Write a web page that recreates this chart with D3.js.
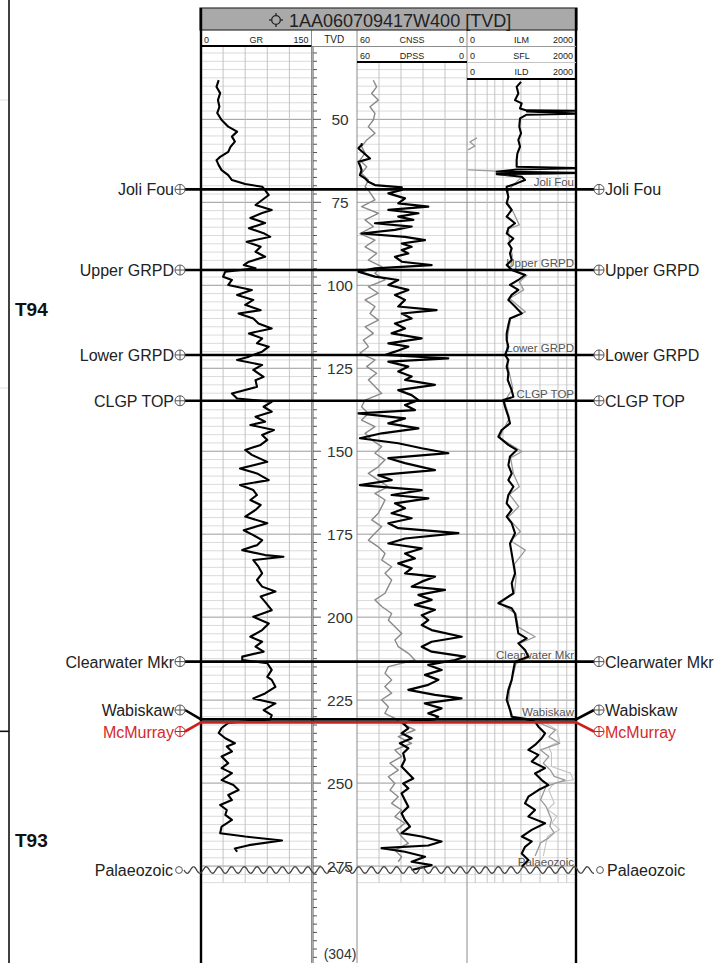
<!DOCTYPE html>
<html><head><meta charset="utf-8">
<script src="https://cdn.jsdelivr.net/npm/d3@7"></script>
<style>
body{margin:0;background:#fff}
svg{display:block}
text{font-family:"Liberation Sans",Arial,Helvetica,sans-serif}
</style>
</head><body>
<svg id="c" width="725" height="963"></svg>
<script>
// ---------------- DATA ----------------
const wellName = "1AA060709417W400 [TVD]";
const depthLabels = [50,75,100,125,150,175,200,225,250,275];
const bottomDepth = 304;
const grRange = [0,150];
const neuRange = [60,0];
const resRange = [0,2000];
const grGridVals = [30,60,90,120];
const neuGridVals = [48,36,24,12];
const resGridVals = [150,370,510,660,990,1340,1670,1830];

const topNames  = ["Joli Fou","Upper GRPD","Lower GRPD","CLGP TOP","Clearwater Mkr","Wabiskaw","McMurray"];
const topDepths = [71.1, 95.4, 121.0, 134.8, 213.4, 230.8, 231.7];
const unconfName = "Palaeozoic";
const unconfDepth = 276.2;
const zoneNames = ["T94","T93"];
const zoneLabelDepths = [107.2, 267.1];
const zoneBoundary = 234.4;

// [depth, value]
const gr = [[38.2,24],[40.2,21],[42.1,26],[44.2,23],[46.2,25],[48.1,22],[50.2,28],[52.2,37],[53.7,49],[55.2,42],[56.7,46],[58.3,40],[59.8,37],[61.3,26],[62.3,21],[63.8,24],[65.3,28],[66.8,37],[68.3,42],[69.5,60],[70.3,83],[71.3,87],[72.8,92],[74.3,83],[75.8,74],[77.3,96],[78.2,83],[79.7,67],[81.2,87],[82.8,65],[84.3,85],[85.4,94],[86.9,62],[88.4,81],[89.9,74],[91.4,87],[92.9,65],[93.9,58],[94.9,74],[95.9,33],[97.4,30],[98.4,42],[99.9,37],[101.4,69],[102.9,49],[104.4,71],[105.9,60],[107.5,81],[108.5,51],[110,71],[111.5,78],[113,96],[114.5,65],[116,83],[117.5,76],[118.5,92],[120,83],[121.5,65],[122.5,49],[124,83],[125.5,71],[127.6,85],[128.6,74],[130.6,76],[132.6,42],[134.1,49],[135.1,96],[136.6,85],[138.1,96],[139.6,74],[141.1,87],[142.1,67],[143.6,99],[145.1,83],[146.6,90],[148.1,81],[149.6,60],[151.1,69],[153.2,90],[155.2,53],[156.7,76],[158.7,92],[160.2,53],[161.7,71],[163.2,76],[164.7,67],[166.2,81],[167.7,74],[169.7,60],[171.7,90],[173.8,58],[175.3,71],[176.8,83],[178.3,76],[179.8,56],[181.3,87],[181.8,112],[182.8,71],[184.8,78],[186.8,83],[188.8,76],[190.8,83],[192.3,101],[193.8,81],[195.4,87],[197.9,96],[199.9,71],[201.9,92],[203.9,83],[205.9,67],[207.4,83],[208.9,74],[210.4,85],[211.9,56],[212.9,56],[213.9,90],[215.9,96],[218,90],[218.9,96],[221,101],[223,87],[224.5,71],[226,101],[228,85],[229.5,96],[230.8,94],[231.5,53],[231.9,37],[233.4,28],[234.9,24],[236.5,33],[238,46],[239,35],[240.5,42],[242,28],[244,37],[245.5,28],[247,42],[249.1,28],[250.6,44],[252.1,51],[253.6,37],[255.1,42],[256.6,26],[258.1,35],[259.6,33],[261.1,42],[263.1,28],[265.1,26],[266.1,60],[267.3,110],[268.7,65],[269.7,46],[270.7,49]];

const cnss = [[38.2,51.1],[40.2,49.3],[42.2,52.0],[44.2,48.4],[46.2,52.9],[48.2,50.2],[50.2,51.1],[52.2,53.8],[54.2,50.2],[56.2,54.7],[58.2,57.5],[60.2,55.6],[62.3,58.4],[64.3,54.7],[66.3,57.5],[68.3,53.8],[70.3,55.6],[71.3,53.8],[74.3,50.2],[76.3,57.5],[78.3,48.4],[80.3,55.6],[82.3,51.1],[84.4,58.4],[86.4,50.2],[88.4,55.6],[90.4,49.3],[92.4,53.8],[94.4,46.5],[96.4,50.2],[98.4,44.7],[100.4,53.8],[102.4,48.4],[104.4,55.6],[106.4,50.2],[108.5,52.9],[110.5,48.4],[112.5,55.6],[114.5,51.1],[116.5,56.5],[118.5,53.8],[120.5,58.4],[122.5,50.2],[124.5,54.7],[126.5,49.3],[128.5,53.8],[130.5,50.2],[132.6,46.5],[134.6,55.6],[136.6,57.5],[138.6,53.8],[140.6,57.5],[142.6,50.2],[144.6,55.6],[146.6,52.0],[148.6,46.5],[150.6,50.2],[152.6,44.7],[154.7,48.4],[156.7,53.8],[158.7,48.4],[160.7,42.9],[162.7,50.2],[164.7,44.7],[166.7,46.5],[168.7,48.4],[170.7,52.0],[172.7,46.5],[174.7,50.2],[176.8,53.8],[178.8,48.4],[180.8,44.7],[182.8,46.5],[184.8,41.1],[186.8,44.7],[188.8,41.1],[190.8,42.9],[192.8,44.7],[194.8,50.2],[196.8,46.5],[198.9,41.1],[200.9,42.9],[202.9,39.3],[204.9,35.6],[206.9,39.3],[208.9,37.5],[210.9,32.0],[212.9,28.4],[214.9,42.9],[216.9,44.7],[218.9,41.1],[220.9,44.8],[222.9,41.1],[224.9,46.6],[227.0,42.9],[229.0,44.8],[230.5,39.3],[232.0,35.7],[234.0,28.4],[236.0,37.5],[238.0,30.2],[240.0,39.3],[242.0,35.7],[244.0,42.0],[246.1,37.5],[248.1,42.9],[250.1,39.3],[252.1,42.0],[254.1,37.5],[256.1,41.1],[258.1,35.7],[260.1,39.3],[262.1,33.9],[264.1,38.4],[266.1,35.7],[268.2,32.0],[270.2,39.3],[272.2,35.7],[273.7,37.5]];

const dpss = [[57.2,57.3],[57.7,57.5],[58.7,59.3],[61.8,52.9],[62.8,59.3],[63.8,58.4],[65.3,57.5],[66.8,58.4],[67.8,55.6],[68.8,53.8],[69.8,50.2],[70.5,35.6],[71.3,35.6],[72.3,42.9],[73.8,33.8],[75.3,37.5],[76.3,21.1],[77.3,42.9],[78.3,26.5],[79.3,37.5],[80.3,29.3],[81.3,50.2],[82.3,30.2],[83.3,39.3],[84.4,57.5],[85.4,33.8],[86.4,22.9],[87.4,35.6],[88.4,30.2],[89.4,35.6],[90.4,32.0],[91.4,39.3],[92.9,35.6],[93.9,19.3],[94.9,50.2],[95.9,59.3],[97.4,50.2],[98.4,37.5],[99.9,42.9],[101.4,32.0],[102.9,39.3],[104.4,33.8],[106.4,37.5],[107.5,16.6],[108.5,35.6],[110.0,30.2],[111.5,39.3],[113.0,33.8],[114.5,41.1],[116.0,24.7],[117.5,42.9],[118.5,32.0],[120.0,39.3],[121.0,44.7],[122.0,10.2],[123.0,42.9],[124.5,32.0],[126.0,37.5],[127.5,30.2],[128.5,33.8],[130.0,17.5],[131.6,37.5],[133.1,30.2],[134.6,26.5],[136.1,33.8],[137.6,28.4],[138.6,59.3],[140.1,33.8],[141.6,42.9],[143.1,26.5],[144.6,46.5],[146.1,58.4],[147.6,37.5],[149.1,24.7],[150.6,10.2],[152.1,42.9],[153.6,33.8],[155.7,17.5],[157.2,48.4],[158.7,41.1],[160.2,58.4],[161.7,24.7],[163.2,41.1],[164.2,21.1],[165.7,39.3],[167.2,33.8],[168.7,41.1],[170.2,30.2],[171.7,42.9],[173.2,37.5],[174.7,4.7],[176.3,33.8],[177.8,42.9],[179.3,24.7],[180.8,33.8],[182.3,28.4],[183.8,37.5],[185.3,30.2],[186.8,33.8],[187.8,17.5],[189.3,24.7],[190.8,30.2],[191.8,12.0],[193.3,26.5],[194.8,19.3],[196.3,28.4],[197.8,17.5],[199.4,24.7],[200.9,21.1],[202.4,24.7],[203.9,19.3],[205.9,2.9],[207.4,19.3],[208.9,24.7],[210.4,19.3],[211.9,1.1],[212.9,6.5],[214.4,21.1],[215.9,13.8],[217.4,22.9],[218.9,15.6],[220.4,21.1],[221.9,32.0],[223.4,17.5],[224.5,3.0],[226.0,23.0],[227.5,13.9],[229.0,21.1],[230.0,15.7],[230.8,17.5],[231.5,32.0],[232.0,34.8],[233.5,32.0],[235.0,35.7],[236.5,30.2],[238.0,36.6],[239.5,32.0],[241.0,34.8],[243.0,33.9],[245.0,35.7],[247.1,32.0],[248.6,29.3],[250.1,34.8],[251.6,32.0],[253.1,35.7],[255.1,33.9],[257.1,32.0],[259.1,35.7],[261.1,33.9],[263.1,31.1],[265.1,35.7],[266.1,24.8],[267.6,13.9],[268.8,21.1],[269.6,46.6],[270.7,33.9],[272.2,22.9],[273.7,30.2],[274.7,19.3],[276.2,30.2]];

const ild = [[38.7,991],[40.2,911],[42.2,942],[44.2,881],[45.2,1003],[46.7,973],[47.3,1095],[47.4,2100],[47.6,1100],[48.3,2100],[48.6,1095],[49.7,973],[52.2,960],[54.2,991],[56.2,942],[58.2,973],[60.3,924],[62.3,911],[64.3,911],[64.7,2100],[65.1,911],[65.8,544],[66.1,2100],[66.5,544],[67.3,1003],[68.3,1064],[69.3,911],[70.3,728],[71.3,728],[73.3,759],[75.3,728],[77.3,820],[79.3,728],[81.3,881],[82.8,759],[84.4,728],[85.9,851],[87.4,759],[88.9,820],[90.4,789],[92.4,820],[93.9,728],[95.4,820],[96.9,1065],[98.4,942],[99.9,789],[101.4,942],[102.9,820],[104.4,759],[106.4,881],[108.5,1004],[110.0,789],[112.0,759],[114.5,728],[116.5,728],[118.5,759],[121.0,698],[122.5,759],[124.5,728],[126.5,759],[128.5,747],[131.6,820],[133.6,851],[134.6,667],[136.6,698],[139.6,759],[141.6,789],[143.6,636],[145.6,575],[148.1,759],[149.6,912],[151.6,789],[154.2,759],[156.7,820],[158.7,759],[160.7,851],[163.2,759],[165.7,728],[167.7,820],[169.7,728],[171.7,820],[174.7,881],[177.8,789],[180.8,820],[183.8,851],[186.8,881],[189.8,820],[192.8,851],[194.8,667],[195.8,575],[197.3,820],[198.9,881],[201.9,912],[204.9,942],[206.4,1095],[207.9,942],[209.9,1065],[211.9,1126],[213.4,881],[215.9,851],[218.9,820],[221.9,759],[224.9,728],[228.0,790],[230.0,820],[230.8,1126],[231.5,1248],[233.0,1310],[235.0,1432],[236.5,1371],[238.5,1248],[240.0,1126],[241.5,1310],[243.5,1187],[245.5,1432],[247.1,1248],[249.1,1371],[250.6,1493],[252.1,1310],[254.1,1126],[256.1,1065],[258.1,1248],[260.1,1126],[262.1,1432],[264.1,1187],[266.1,1004],[267.6,1187],[269.2,1065],[271.2,1004],[273.2,1126],[275.2,1004]];

const ilm = [[55.6,184],[56.8,55],[58.0,147],[59.2,18],[60,null],[65.2,20],[65.6,560],[66.3,2100],[66.6,560],[67.4,1000],[69,900],[71.3,760],[75,740],[78,850],[81.8,960],[83,760],[87,780],[91,830],[95,800],[97,1100],[99,960],[101.4,1040],[104,780],[108,1070],[110,800],[115,750],[121,720],[126,770],[131,840],[135,690],[140,780],[144,650],[146,600],[150.1,1010],[152,800],[156.7,850],[160.7,960],[163,780],[166.7,950],[170,750],[174.2,980],[177,800],[179.8,1070],[184,870],[188,900],[192.8,870],[195.8,600],[199,900],[203,940],[205.9,1250],[208,960],[212,1150],[214,900],[218,840],[222,780],[226,760],[230,840],[232,1350],[234,1620],[236,1500],[238,1700],[240,1350],[242,1500],[244,1400],[246.1,1530],[248,1600],[249.1,1800],[251,1450],[253,1400],[255,1350],[257,1450],[259,1500],[261,1550],[263,1520],[265,1600],[266.5,1500],[268,1350],[270,1300],[272,1250]];

const sfl = [[232,1450],[234,1650],[237.5,1700],[239,1500],[241,1550],[245,1550],[247,1900],[249,1950],[250,1600],[252,1500],[256,1600],[258,1480],[260,1650],[262,1560],[264,1700],[266,1480],[268,1450],[272,1400]];

// ---------------- LAYOUT ----------------
const svg = d3.select("#c");
const L = 201, R = 576, xGT = 311.5, xTN = 357, xNR = 467;
const topGR = 47, topNeu = 62, topRes = 79, H = 963;
const y = d3.scaleLinear().domain([28.2, bottomDepth]).range([47, 962.3]);
const xGR = d3.scaleLinear().domain(grRange).range([L, xGT]);
const xNeu = d3.scaleLinear().domain(neuRange).range([xTN, xNR]);
const xRes = d3.scaleLinear().domain(resRange).range([xNR, R]);
const gridEnd = 280;

const defs = svg.append("defs");
function clip(id, x0, y0, x1){
  defs.append("clipPath").attr("id", id).append("rect")
    .attr("x", x0).attr("y", y0).attr("width", x1-x0).attr("height", H-y0);
}
clip("cGR", L, topGR, xGT); clip("cNeu", xTN, topNeu, xNR); clip("cRes", xNR, topRes, R);

// left zone bracket
const zb = svg.append("g");
zb.append("line").attr("x1",9).attr("x2",9).attr("y1",0).attr("y2",H).attr("stroke","#111").attr("stroke-width",1.6);
zb.append("line").attr("x1",0).attr("x2",9).attr("y1",y(zoneBoundary)).attr("y2",y(zoneBoundary)).attr("stroke","#111").attr("stroke-width",1.6);
[100,388].forEach(v=>zb.append("line").attr("x1",0).attr("x2",8).attr("y1",v).attr("y2",v).attr("stroke","#e2e2e2"));
zoneNames.forEach((n,i)=>zb.append("text").attr("x",15).attr("y",y(zoneLabelDepths[i])+7)
  .attr("font-size",19).attr("font-weight","bold").attr("fill","#111").text(n));

// ---------------- GRID ----------------
const grid = svg.append("g");
const minorDepths = d3.range(30, gridEnd+0.01, 2.5);
function hgrid(x0, x1, top){
  minorDepths.forEach(d=>{
    const yy = y(d); if (yy < top+1) return;
    const major = Math.abs(d % 25) < 0.01;
    grid.append("line").attr("x1",x0).attr("x2",x1).attr("y1",yy).attr("y2",yy)
      .attr("stroke", major ? "#9a9a9a" : "#d2d2d2").attr("stroke-width", major?1:0.8);
  });
}
hgrid(L, xGT, topGR); hgrid(xTN, xNR, topNeu); hgrid(xNR, R, topRes);
function vgrid(vals, sc, top){
  vals.forEach(v=>grid.append("line").attr("x1",sc(v)).attr("x2",sc(v)).attr("y1",top).attr("y2",y(gridEnd))
    .attr("stroke","#bdbdbd").attr("stroke-width",0.9));
}
vgrid(grGridVals, xGR, topGR); vgrid(neuGridVals, xNeu, topNeu); vgrid(resGridVals, xRes, topRes);

// ---------------- TVD AXIS ----------------
const ax = svg.append("g");
const xAx = 313;
ax.append("line").attr("x1",xAx).attr("x2",xAx).attr("y1",topGR).attr("y2",H).attr("stroke","#555").attr("stroke-width",1);
d3.range(30, 302.6, 2.5).forEach(d=>{
  const major = Math.abs(d % 25) < 0.01 && d>=50 && d<=275;
  ax.append("line").attr("x1",xAx).attr("x2",xAx+(major?8:4)).attr("y1",y(d)).attr("y2",y(d))
    .attr("stroke","#555").attr("stroke-width",1);
});
depthLabels.forEach(d=>ax.append("text").attr("x",340).attr("y",y(d)+6).attr("text-anchor","middle")
  .attr("font-size",15.5).attr("fill","#333").text(d));
ax.append("text").attr("x",340).attr("y",959).attr("text-anchor","middle").attr("font-size",14)
  .attr("fill","#333").text("("+bottomDepth+")");

// ---------------- INSIDE TOP LABELS ----------------
const inl = svg.append("g");
topNames.forEach((n,i)=>{
  if (n==="McMurray") return;
  inl.append("text").attr("x",574).attr("y",y(topDepths[i])-3).attr("text-anchor","end")
    .attr("font-size",11.5).attr("fill","#555").text(n);
});
inl.append("text").attr("x",574).attr("y",y(unconfDepth)-4).attr("text-anchor","end")
  .attr("font-size",11.5).attr("fill","#555").text(unconfName);

// ---------------- CURVES ----------------
function curve(data, sc, clipId, color, width){
  const ln = d3.line().defined(d=>d[1]!==null).x(d=>sc(d[1])).y(d=>y(d[0]));
  svg.append("path").datum(data).attr("d", ln).attr("fill","none").attr("stroke",color)
    .attr("stroke-width",width).attr("stroke-linejoin","round").attr("clip-path","url(#"+clipId+")");
}
curve(gr, xGR, "cGR", "#000", 2.1);
curve(cnss, xNeu, "cNeu", "#8a8a8a", 1.4);
curve(dpss, xNeu, "cNeu", "#000", 2.2);
curve(sfl, xRes, "cRes", "#c4c4c4", 1.1);
curve(ilm, xRes, "cRes", "#9a9a9a", 1.3);
curve(ild, xRes, "cRes", "#000", 2.1);

// ---------------- FRAME & HEADER ----------------
const fr = svg.append("g");
[xGT, xTN, xNR].forEach(x=>fr.append("line").attr("x1",x).attr("x2",x).attr("y1",30).attr("y2",H)
  .attr("stroke","#8c8c8c").attr("stroke-width",1));
fr.append("rect").attr("x",200).attr("y",8).attr("width",R-200+1).attr("height",22)
  .attr("fill","#a9a9a9").attr("stroke","#333").attr("stroke-width",1.2);
fr.append("line").attr("x1",L).attr("x2",L).attr("y1",8).attr("y2",H).attr("stroke","#000").attr("stroke-width",2.4);
fr.append("line").attr("x1",R).attr("x2",R).attr("y1",8).attr("y2",H).attr("stroke","#000").attr("stroke-width",2.4);
// title
const ic = fr.append("g").attr("transform","translate(276,20)");
ic.append("circle").attr("r",4.3).attr("fill","none").attr("stroke","#222").attr("stroke-width",1.3);
[[-7,0,-4.3,0],[4.3,0,7,0],[0,-7,0,-4.3],[0,4.3,0,7]].forEach(s=>ic.append("line")
  .attr("x1",s[0]).attr("y1",s[1]).attr("x2",s[2]).attr("y2",s[3]).attr("stroke","#222").attr("stroke-width",1.3));
fr.append("text").attr("x",289).attr("y",26.5).attr("font-size",18).attr("fill","#222").text(wellName);

// header rows
function hdr(x0, x1, base, lo, name, hi){
  const g = fr.append("g").attr("font-size",9).attr("fill","#222");
  g.append("text").attr("x",x0+3).attr("y",base).text(lo);
  g.append("text").attr("x",(x0+x1)/2).attr("y",base).attr("text-anchor","middle").text(name);
  g.append("text").attr("x",x1-3).attr("y",base).attr("text-anchor","end").text(hi);
}
function hline(x0,x1,yy,c,w){ fr.append("line").attr("x1",x0).attr("x2",x1).attr("y1",yy).attr("y2",yy).attr("stroke",c).attr("stroke-width",w); }
hdr(L, xGT, 43, grRange[0], "GR", grRange[1]);
hline(L, xGT, 46, "#000", 2);
fr.append("text").attr("x",(xGT+xTN)/2).attr("y",43).attr("text-anchor","middle").attr("font-size",10).attr("fill","#222").text("TVD");
hline(xGT, xTN, 46.5, "#888", 1);
hdr(xTN, xNR, 43, neuRange[0], "CNSS", neuRange[1]);
hline(xTN, xNR, 46.5, "#8a8a8a", 1.2);
hdr(xTN, xNR, 59, neuRange[0], "DPSS", neuRange[1]);
hline(xTN, xNR, 62, "#000", 2);
hdr(xNR, R, 43, resRange[0], "ILM", resRange[1]);
hline(xNR, R, 46.5, "#9a9a9a", 1.2);
hdr(xNR, R, 59, resRange[0], "SFL", resRange[1]);
hline(xNR, R, 62.5, "#c4c4c4", 1.2);
hdr(xNR, R, 75, resRange[0], "ILD", resRange[1]);
hline(xNR, R, 79, "#000", 2);

// ---------------- FORMATION TOPS ----------------
const tp = svg.append("g");
function marker(cx, cy, color, plus){
  tp.append("circle").attr("cx",cx).attr("cy",cy).attr("r",plus?5:3.4).attr("fill","#fff")
    .attr("stroke",color).attr("stroke-width",1);
  if (plus){
    tp.append("line").attr("x1",cx-5).attr("x2",cx+5).attr("y1",cy).attr("y2",cy).attr("stroke",color).attr("stroke-width",1);
    tp.append("line").attr("x1",cx).attr("x2",cx).attr("y1",cy-5).attr("y2",cy+5).attr("stroke",color).attr("stroke-width",1);
  }
}
topNames.forEach((n,i)=>{
  const yy = y(topDepths[i]);
  const red = n==="McMurray";
  const color = red ? "#cc2020" : "#000";
  const txtColor = red ? "#d42a2a" : "#222";
  let ly = yy;
  if (n==="Wabiskaw") ly = 710;
  if (n==="McMurray") ly = 731.5;
  tp.append("path").attr("d", d3.line()([[185,ly],[L,yy],[R,yy],[594,ly]]))
    .attr("fill","none").attr("stroke",color).attr("stroke-width",2.6);
  marker(180, ly, red?"#cc2020":"#555", true);
  marker(599, ly, red?"#cc2020":"#555", true);
  tp.append("text").attr("x",174).attr("y",ly+6).attr("text-anchor","end").attr("font-size",16).attr("fill",txtColor).text(n);
  tp.append("text").attr("x",605).attr("y",ly+6).attr("font-size",16).attr("fill",txtColor).text(n);
});
// unconformity
const yu = y(unconfDepth);
const wave = d3.range(184, 594.1, 1).map(x=>[x, yu + 3.3*Math.sin(2*Math.PI*(x-184)/12.7)]);
tp.append("path").attr("d", d3.line()(wave)).attr("fill","none").attr("stroke","#444").attr("stroke-width",1.3);
marker(179, yu, "#555", false);
marker(600, yu, "#555", false);
tp.append("text").attr("x",173).attr("y",yu+6).attr("text-anchor","end").attr("font-size",16).attr("fill","#222").text(unconfName);
tp.append("text").attr("x",607).attr("y",yu+6).attr("font-size",16).attr("fill","#222").text(unconfName);
</script>
</body></html>
